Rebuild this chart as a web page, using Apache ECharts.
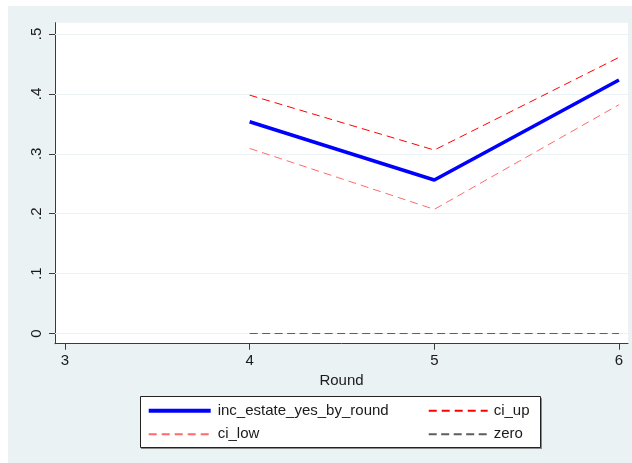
<!DOCTYPE html>
<html>
<head>
<meta charset="utf-8">
<script src="https://cdn.jsdelivr.net/npm/echarts@6/dist/echarts.min.js"></script>
<style>
  html, body { margin: 0; padding: 0; background: #ffffff; }
  #chart { position: absolute; left: 8px; top: 6px; width: 624px; height: 457px; }
</style>
</head>
<body>
<div id="chart"></div>
<script>
// Estimated share by survey round, with confidence band and a zero reference
const rounds = [4, 5, 6];
const estimate = [0.3536, 0.2563, 0.4232];
const ciUp = [0.398, 0.3063, 0.461];
const ciLow = [0.309, 0.2073, 0.382];
const zero = [0, 0, 0];

const xTicks = [3, 4, 5, 6];
const yTicks = [0, 0.1, 0.2, 0.3, 0.4, 0.5];
const yTickLabels = ['0', '.1', '.2', '.3', '.4', '.5'];

const FONT = "'Liberation Sans', Arial, sans-serif";
const pairs = ys => rounds.map((r, i) => [r, ys[i]]);

const chart = echarts.init(document.getElementById('chart'), null, { renderer: 'canvas' });

const legendText = { fontSize: 15, color: '#1a1a1a', lineHeight: 16, fontFamily: FONT };

chart.setOption({
  animation: false,
  backgroundColor: '#EAF2F3',
  textStyle: { fontFamily: FONT },
  grid: {
    left: 47, right: 4, top: 16.7, bottom: 119.3,
    show: true, backgroundColor: '#ffffff', borderWidth: 0
  },
  xAxis: {
    type: 'value',
    min: 2.9459, max: 6.049,
    name: 'Round', nameLocation: 'middle', nameGap: 26,
    nameTextStyle: { fontSize: 15, color: '#1a1a1a', fontFamily: FONT },
    axisLine: { show: true, onZero: false, lineStyle: { color: '#3a3a3a', width: 1 } },
    axisTick: { show: true, length: 6, customValues: xTicks, lineStyle: { color: '#3a3a3a' } },
    axisLabel: { customValues: xTicks, fontSize: 15, color: '#1a1a1a', margin: 10, fontFamily: FONT },
    splitLine: { show: false }
  },
  yAxis: {
    type: 'value',
    min: -0.017, max: 0.5189,
    axisLine: { show: true, onZero: false, lineStyle: { color: '#3a3a3a', width: 1 } },
    axisTick: { show: true, length: 6, customValues: yTicks, lineStyle: { color: '#3a3a3a' } },
    axisLabel: {
      customValues: yTicks, rotate: 90, fontSize: 15, color: '#1a1a1a', margin: 11, fontFamily: FONT,
      formatter: v => yTickLabels[yTicks.findIndex(t => Math.abs(t - v) < 1e-9)]
    },
    splitLine: { show: false }
  },
  legend: [
    {
      data: [
        { name: 'inc_estate_yes_by_round', lineStyle: { width: 4 } },
        { name: 'ci_low' }
      ],
      orient: 'vertical', left: 138.7, top: 396.7, padding: 0,
      itemWidth: 62, itemHeight: 10, itemGap: 7.6,
      itemStyle: { opacity: 0 },
      textStyle: Object.assign({ padding: [0, 0, 0, 2] }, legendText)
    },
    {
      data: [{ name: 'ci_up' }, { name: 'zero' }],
      orient: 'vertical', left: 419.7, top: 396.7, padding: 0,
      itemWidth: 59, itemHeight: 10, itemGap: 7.6,
      itemStyle: { opacity: 0 },
      textStyle: Object.assign({ padding: [0, 0, 0, 1] }, legendText)
    }
  ],
  graphic: [
    { type: 'rect', z: 0, shape: { x: 133, y: 392, width: 401, height: 51 },
      style: { fill: '#8a8a8a' } },
    { type: 'rect', z: 1, shape: { x: 132.5, y: 390.5, width: 400, height: 51 },
      style: { fill: '#ffffff', stroke: '#222222', lineWidth: 1 } }
  ],
  series: [
    {
      name: 'gridlines', type: 'line', data: [], z: 1, silent: true,
      markLine: {
        z: 1, silent: true, symbol: 'none', label: { show: false }, animation: false,
        lineStyle: { color: '#EAF2F3', type: 'solid', width: 1 },
        data: yTicks.map(v => ({ yAxis: v }))
      }
    },
    {
      name: 'zero', type: 'line', data: pairs(zero), z: 3,
      symbol: 'none', lineStyle: { color: '#5e5e5e', width: 1, type: [8, 4.5] }, itemStyle: { color: '#5e5e5e' }
    },
    {
      name: 'ci_low', type: 'line', data: pairs(ciLow), z: 4,
      symbol: 'none', lineStyle: { color: '#ff6a6a', width: 1, type: [8, 5] }, itemStyle: { color: '#ff6a6a' }
    },
    {
      name: 'ci_up', type: 'line', data: pairs(ciUp), z: 4,
      symbol: 'none', lineStyle: { color: '#ff0000', width: 1, type: [8, 5] }, itemStyle: { color: '#ff0000' }
    },
    {
      name: 'inc_estate_yes_by_round', type: 'line', data: pairs(estimate), z: 5,
      symbol: 'none', lineStyle: { color: '#0000ff', width: 3.6 }, itemStyle: { color: '#0000ff' }
    }
  ]
});
</script>
</body>
</html>
